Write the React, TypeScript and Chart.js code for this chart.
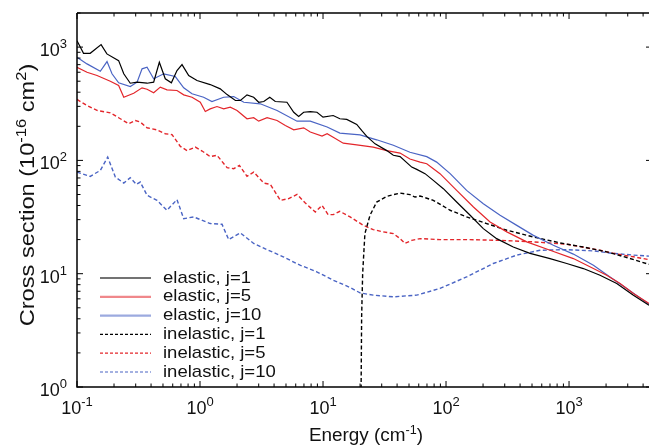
import React, { useEffect, useRef } from "react";
import { Chart, registerables } from "chart.js";

Chart.register(...registerables);

// ---------------- data (Energy in cm^-1, cross section in 1e-16 cm^2) ----------------
const elasticJ1E = [0.1, 0.113, 0.128, 0.157, 0.175, 0.218, 0.24, 0.271, 0.308, 0.371, 0.42, 0.467, 0.522, 0.585, 0.65, 0.714, 0.809, 0.945, 1.21, 1.46, 1.66, 1.94, 2.13, 2.41, 2.73, 3.0, 3.3, 3.69, 4.09, 5.09, 5.78, 6.34, 6.96, 7.88, 8.93, 10.0, 12.1, 13.7, 15.6, 18.8, 20.6, 22.7, 26.5, 33.0, 37.3, 42.3, 52.6, 57.8, 67.5, 78.8, 95.1, 122, 157, 201, 258, 352, 482, 701, 958, 1307, 1786, 2443, 3336, 4467];
const elasticJ1 = [1140, 882, 882, 1052, 871, 760, 581, 480, 490, 480, 490, 735, 525, 484, 621, 701, 561, 507, 467, 428, 381, 338, 338, 379, 361, 326, 331, 361, 331, 326, 266, 244, 266, 270, 266, 241, 249, 233, 230, 208, 184, 163, 140, 122, 111, 108, 87.3, 83.3, 76.4, 66.6, 56.3, 42.9, 32.8, 25.0, 20.4, 17.2, 15.1, 13.6, 12.3, 11.1, 9.7, 8.2, 6.46, 5.28];

const elasticJ5E = [0.1, 0.1206, 0.1455, 0.1865, 0.218, 0.24, 0.289, 0.338, 0.371, 0.42, 0.4755, 0.539, 0.65, 0.737, 0.861, 1.005, 1.104, 1.21, 1.374, 1.558, 1.763, 2.0, 2.41, 2.73, 3.0, 3.51, 4.23, 4.94, 5.78, 6.96, 7.88, 9.82, 10.8, 12.1, 14.6, 18.8, 25.6, 33.0, 42.3, 50.9, 61.5, 69.7, 89.3, 122, 167, 228, 312, 453, 701, 1084, 1578, 2023, 2600, 3336, 4467];
const elasticJ5 = [664, 600, 561, 500, 458, 361, 392, 437, 425, 395, 443, 420, 414, 379, 361, 326, 270, 285, 299, 285, 295, 276, 233, 238, 222, 238, 225, 203, 186, 194, 178, 164, 172, 160, 142, 137, 131, 122, 116, 103, 96.6, 93.5, 76.4, 54.4, 38.8, 28.6, 23.4, 19.1, 16.1, 13.6, 11.1, 9.7, 8.2, 6.69, 5.46];

const elasticJ10E = [0.1, 0.1206, 0.1547, 0.1754, 0.1926, 0.218, 0.271, 0.308, 0.338, 0.371, 0.42, 0.507, 0.63, 0.737, 0.861, 1.07, 1.25, 1.558, 1.88, 2.27, 3.09, 4.23, 6.15, 7.88, 10.8, 13.7, 20.0, 27.3, 37.3, 50.9, 69.7, 83.9, 108, 147, 201, 275, 376, 513, 745, 1084, 1578, 2153, 2944, 4467];
const elasticJ10 = [813, 711, 612, 745, 581, 484, 449, 490, 643, 664, 525, 581, 550, 437, 387, 361, 331, 361, 366, 326, 316, 276, 222, 222, 197, 174, 168, 152, 136, 118, 108, 96.6, 76.4, 54.4, 41.5, 32.8, 26.7, 21.8, 17.8, 14.9, 11.9, 9.37, 7.41, 5.39];

const inelasticJ1E = [20.3, 20.4, 20.6, 21.0, 21.9, 24.1, 27.3, 33.0, 42.3, 50.9, 56.0, 61.5, 78.8, 108, 147, 214, 312, 513, 845, 1307, 2023, 2944, 4467];
const inelasticJ1 = [0.5, 1.0, 4.16, 10.0, 22.6, 32.8, 42.9, 48.2, 51.5, 49.9, 47.5, 48.5, 44.4, 36.3, 31.7, 27.7, 24.2, 21.1, 18.7, 17.2, 15.6, 13.9, 12.1];

const inelasticJ5E = [0.1, 0.1206, 0.1455, 0.1865, 0.218, 0.263, 0.298, 0.327, 0.371, 0.447, 0.522, 0.592, 0.692, 0.784, 0.916, 1.04, 1.21, 1.374, 1.66, 1.88, 2.09, 2.41, 2.73, 3.3, 3.73, 4.5, 5.26, 6.15, 7.18, 8.66, 9.82, 11.0, 12.1, 13.7, 16.6, 21.3, 25.6, 30.9, 37.3, 42.3, 46.4, 52.6, 61.5, 89.3, 147, 275, 513, 958, 1786, 2443, 3336, 4467];
const inelasticJ5 = [345, 305, 276, 263, 238, 211, 225, 218, 194, 186, 172, 169, 133, 122, 131, 121, 108, 111, 86.2, 84.5, 90.4, 72.3, 78.9, 63.1, 61.4, 44.4, 46.0, 50.1, 42.1, 35.0, 40.1, 33.2, 33.2, 35.5, 31.7, 26.7, 24.5, 23.4, 22.6, 20.4, 18.5, 19.7, 20.4, 20.0, 20.0, 19.7, 19.1, 18.2, 16.1, 14.9, 14.1, 13.3];

const inelasticJ10E = [0.1, 0.128, 0.1547, 0.1777, 0.205, 0.24, 0.271, 0.304, 0.327, 0.371, 0.447, 0.539, 0.65, 0.737, 0.889, 1.21, 1.51, 1.71, 2.13, 2.73, 3.51, 4.75, 6.5, 8.89, 12.1, 16.6, 20.0, 25.6, 37.3, 57.8, 89.3, 147, 242, 376, 581, 958, 1578, 2291, 3336, 4467];
const inelasticJ10 = [78.9, 72.3, 81.6, 107, 71.3, 63.1, 70.4, 61.4, 64.4, 49.2, 44.4, 36.3, 45.1, 30.6, 31.7, 27.7, 27.3, 20.0, 22.9, 18.5, 16.3, 14.1, 11.9, 10.4, 8.76, 7.56, 6.77, 6.47, 6.25, 6.47, 7.41, 9.37, 12.3, 14.6, 16.1, 16.3, 15.9, 15.1, 14.6, 14.3];

const seriesLabels = ["elastic, j=1", "elastic, j=5", "elastic, j=10", "inelastic, j=1", "inelastic, j=5", "inelastic, j=10"];
const xMajorTicks = [0.1, 1, 10, 100, 1000];
const xTickExponents = ["-1", "0", "1", "2", "3"];
const yMajorTicks = [1, 10, 100, 1000];
const yTickExponents = ["0", "1", "2", "3"];
const xMin = 0.1;
const xMax = 4467;
const yMin = 1;
const yMax = 2000;

// ---------------- styles ----------------
const BLACK = "#000000";
const RED = "#e3262b";
const BLUE = "#4a64c4";
const FONT = '"Liberation Sans", Arial, Helvetica, sans-serif';
const DASH = [4, 2.5];

const seriesData = [
  { label: seriesLabels[0], e: elasticJ1E, v: elasticJ1, color: BLACK, dashed: false },
  { label: seriesLabels[1], e: elasticJ5E, v: elasticJ5, color: RED, dashed: false },
  { label: seriesLabels[2], e: elasticJ10E, v: elasticJ10, color: BLUE, dashed: false },
  { label: seriesLabels[3], e: inelasticJ1E, v: inelasticJ1, color: BLACK, dashed: true },
  { label: seriesLabels[4], e: inelasticJ5E, v: inelasticJ5, color: RED, dashed: true },
  { label: seriesLabels[5], e: inelasticJ10E, v: inelasticJ10, color: BLUE, dashed: true },
];

type Part = [string, boolean];

function partsWidth(ctx: CanvasRenderingContext2D, parts: Part[], main: string, sup: string) {
  let w = 0;
  for (const [t, s] of parts) {
    ctx.font = s ? sup : main;
    w += ctx.measureText(t).width;
  }
  return w;
}

function drawParts(ctx: CanvasRenderingContext2D, parts: Part[], x: number, y: number, main: string, sup: string, raise: number) {
  let cx = x;
  for (const [t, s] of parts) {
    ctx.font = s ? sup : main;
    ctx.fillText(t, cx, s ? y - raise : y);
    cx += ctx.measureText(t).width;
  }
}

const axesPlugin = {
  id: "axesPlugin",
  afterDraw(chart: any) {
    const { ctx, chartArea: a, scales } = chart;
    const xs = scales.x;
    const ys = scales.y;
    ctx.save();
    ctx.strokeStyle = "#000";
    ctx.fillStyle = "#111";

    // frame
    ctx.lineWidth = 1.5;
    ctx.beginPath();
    ctx.moveTo(a.left, a.top);
    ctx.lineTo(a.left, a.bottom);
    ctx.lineTo(a.right, a.bottom);
    ctx.moveTo(a.left, a.top);
    ctx.lineTo(a.right, a.top);
    ctx.stroke();

    // x ticks
    ctx.lineWidth = 1;
    ctx.beginPath();
    for (const d of xMajorTicks) {
      for (let m = 1; m <= 9; m++) {
        const v = d * m;
        if (v < xMin || v > xMax) continue;
        const px = xs.getPixelForValue(v);
        const len = m === 1 ? 6 : 3.5;
        ctx.moveTo(px, a.bottom);
        ctx.lineTo(px, a.bottom - len);
        ctx.moveTo(px, a.top);
        ctx.lineTo(px, a.top + len);
      }
    }
    // y ticks
    for (const d of yMajorTicks) {
      for (let m = 1; m <= 9; m++) {
        const v = d * m;
        if (v < yMin || v > yMax) continue;
        const py = ys.getPixelForValue(v);
        const len = m === 1 ? 6 : 3.5;
        ctx.moveTo(a.left, py);
        ctx.lineTo(a.left + len, py);
        if (m === 1) {
          ctx.moveTo(a.right, py);
          ctx.lineTo(a.right - 3, py);
        }
      }
    }
    ctx.stroke();

    // tick labels
    const mainF = `18px ${FONT}`;
    const supF = `13px ${FONT}`;
    ctx.textAlign = "left";
    ctx.textBaseline = "alphabetic";
    xMajorTicks.forEach((v, i) => {
      const parts: Part[] = [["10", false], [xTickExponents[i], true]];
      const w = partsWidth(ctx, parts, mainF, supF);
      const px = xs.getPixelForValue(v);
      drawParts(ctx, parts, px - w / 2, a.bottom + 27, mainF, supF, 8);
    });
    yMajorTicks.forEach((v, i) => {
      const parts: Part[] = [["10", false], [yTickExponents[i], true]];
      const w = partsWidth(ctx, parts, mainF, supF);
      const py = ys.getPixelForValue(v);
      drawParts(ctx, parts, a.left - 10 - w, py + 9, mainF, supF, 8);
    });

    // x title
    {
      const m = `18px ${FONT}`;
      const s = `12px ${FONT}`;
      const parts: Part[] = [["Energy (cm", false], ["-1", true], [")", false]];
      const w = partsWidth(ctx, parts, m, s);
      ctx.save();
      ctx.translate((a.left + a.right) / 2 + 3, 441);
      ctx.scale(1.05, 1);
      drawParts(ctx, parts, -w / 2, 0, m, s, 7);
      ctx.restore();
    }
    // y title
    {
      const m = `20px ${FONT}`;
      const s = `14px ${FONT}`;
      const parts: Part[] = [["Cross section (10", false], ["-16", true], [" cm", false], ["2", true], [")", false]];
      const w = partsWidth(ctx, parts, m, s);
      ctx.save();
      ctx.translate(34, 195);
      ctx.rotate(-Math.PI / 2);
      ctx.scale(1.18, 1);
      drawParts(ctx, parts, -w / 2, 0, m, s, 8);
      ctx.restore();
    }

    // legend
    const legF = `17px ${FONT}`;
    const rowY0 = 278;
    const rowStep = 18.8;
    chart.data.datasets.forEach((ds: any, i: number) => {
      const cy = rowY0 + i * rowStep;
      ctx.save();
      ctx.strokeStyle = ds.borderColor;
      if (ds.borderDash && ds.borderDash.length) {
        ctx.setLineDash([3, 2]);
        ctx.lineWidth = 1.2;
      } else {
        ctx.globalAlpha = 0.55;
        ctx.lineWidth = 2.2;
      }
      ctx.beginPath();
      ctx.moveTo(100, cy);
      ctx.lineTo(151, cy);
      ctx.stroke();
      ctx.restore();
      ctx.save();
      ctx.font = legF;
      ctx.fillStyle = "#111";
      ctx.textBaseline = "middle";
      ctx.translate(163, cy);
      ctx.scale(1.09, 1);
      ctx.fillText(ds.label, 0, 0);
      ctx.restore();
    });

    ctx.restore();
  },
};

export default function App() {
  const ref = useRef<HTMLCanvasElement>(null);
  useEffect(() => {
    if (!ref.current) return;
    const datasets = seriesData.map((s) => ({
      label: s.label,
      data: s.e.map((x, i) => ({ x, y: s.v[i] })),
      borderColor: s.color,
      backgroundColor: s.color,
      borderWidth: s.dashed ? 1.4 : 1.2,
      borderDash: s.dashed ? DASH : [],
      pointRadius: 0,
      fill: false,
      tension: 0,
    }));
    const chart = new Chart(ref.current, {
      type: "line",
      data: { datasets },
      options: {
        responsive: false,
        animation: false,
        devicePixelRatio: 1,
        layout: { padding: { top: 13, left: 0, right: 0, bottom: 0 } },
        plugins: { legend: { display: false }, tooltip: { enabled: false } },
        scales: {
          x: {
            type: "logarithmic",
            min: xMin,
            max: xMax,
            ticks: { display: false },
            grid: { display: false },
            border: { display: false },
            afterFit: (s: any) => {
              s.height = 61;
            },
          },
          y: {
            type: "logarithmic",
            min: yMin,
            max: yMax,
            ticks: { display: false },
            grid: { display: false },
            border: { display: false },
            afterFit: (s: any) => {
              s.width = 77;
            },
          },
        },
      } as any,
      plugins: [axesPlugin],
    });
    return () => chart.destroy();
  }, []);
  return (
    <div style={{ position: "absolute", left: 0, top: 0, width: 649, height: 448, background: "#fff" }}>
      <canvas ref={ref} width={649} height={448} style={{ display: "block", width: 649, height: 448 }} />
    </div>
  );
}
